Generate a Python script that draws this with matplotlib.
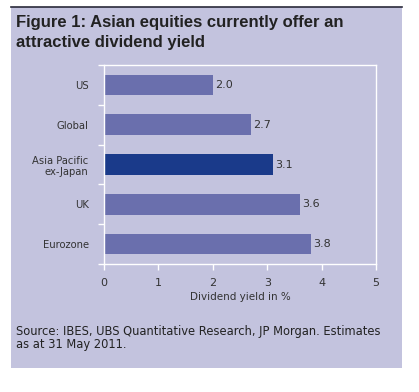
import matplotlib.pyplot as plt
import numpy as np

categories = ["US", "Global", "Asia Pacific\nex-Japan", "UK", "Eurozone"]
values = [2.0, 2.7, 3.1, 3.6, 3.8]
highlight = "Asia Pacific\nex-Japan"
xticks = [0, 1, 2, 3, 4, 5]

bg = "#c3c3de"
bar_col = "#6a6fad"
hi_col = "#1a3a8a"
txt = "#333333"

fig = plt.figure(figsize=(4.19, 3.92), dpi=100)
W, H = 419, 392

# lavender panel with a dark rule on top
panel = fig.add_axes([11 / W, 1 - 368 / H, 391 / W, 361 / H])
panel.set_facecolor(bg)
panel.set_xticks([])
panel.set_yticks([])
for s in panel.spines.values():
    s.set_visible(False)
fig.add_artist(plt.Line2D([11 / W, 402 / W], [1 - 6.5 / H] * 2, color="#2a2a3a", lw=1.2))

title_lines = ["Figure 1: Asian equities currently offer an", "attractive dividend yield"]
for i, line in enumerate(title_lines):
    fig.text(16 / W, 1 - (27 + 20 * i) / H, line, fontsize=12, fontweight="bold",
             family="Liberation Sans", color="#222222", va="baseline")

ax = fig.add_axes([104 / W, 1 - 264 / H, 272 / W, 199 / H])
ax.set_facecolor(bg)
y = np.arange(len(categories))
colors = [hi_col if c == highlight else bar_col for c in categories]
ax.barh(y, values, height=0.52, color=colors)
for yi, v in zip(y, values):
    ax.text(v + 0.05, yi, f"{v:.1f}", va="center", ha="left", fontsize=8, color=txt)

ax.set_xlim(0, 5)
ax.set_ylim(len(categories) - 0.5, -0.5)
ax.set_xticks(xticks)
ax.set_xticklabels([str(t) for t in xticks], fontsize=8, color=txt)
ax.set_yticks(y)
ax.set_yticklabels(categories, fontsize=7.2, color=txt, ha="right")
ax.set_yticks(np.arange(-0.5, len(categories)), minor=True)
ax.tick_params(axis="y", which="major", length=0, pad=11)
ax.tick_params(axis="y", which="minor", length=4, color="white", width=1)
ax.tick_params(axis="x", length=4, color="white", width=1, pad=6)
for s in ax.spines.values():
    s.set_color("white")
    s.set_linewidth(1)
ax.set_xlabel("Dividend yield in %", fontsize=7.5, color=txt, labelpad=3)

fig.text(16 / W, 1 - 338 / H, "Source: IBES, UBS Quantitative Research, JP Morgan. Estimates\nas at 31 May 2011.",
         fontsize=8.3, color="#222222", va="center", linespacing=1.0)

fig.savefig("out.png", dpi=100)
